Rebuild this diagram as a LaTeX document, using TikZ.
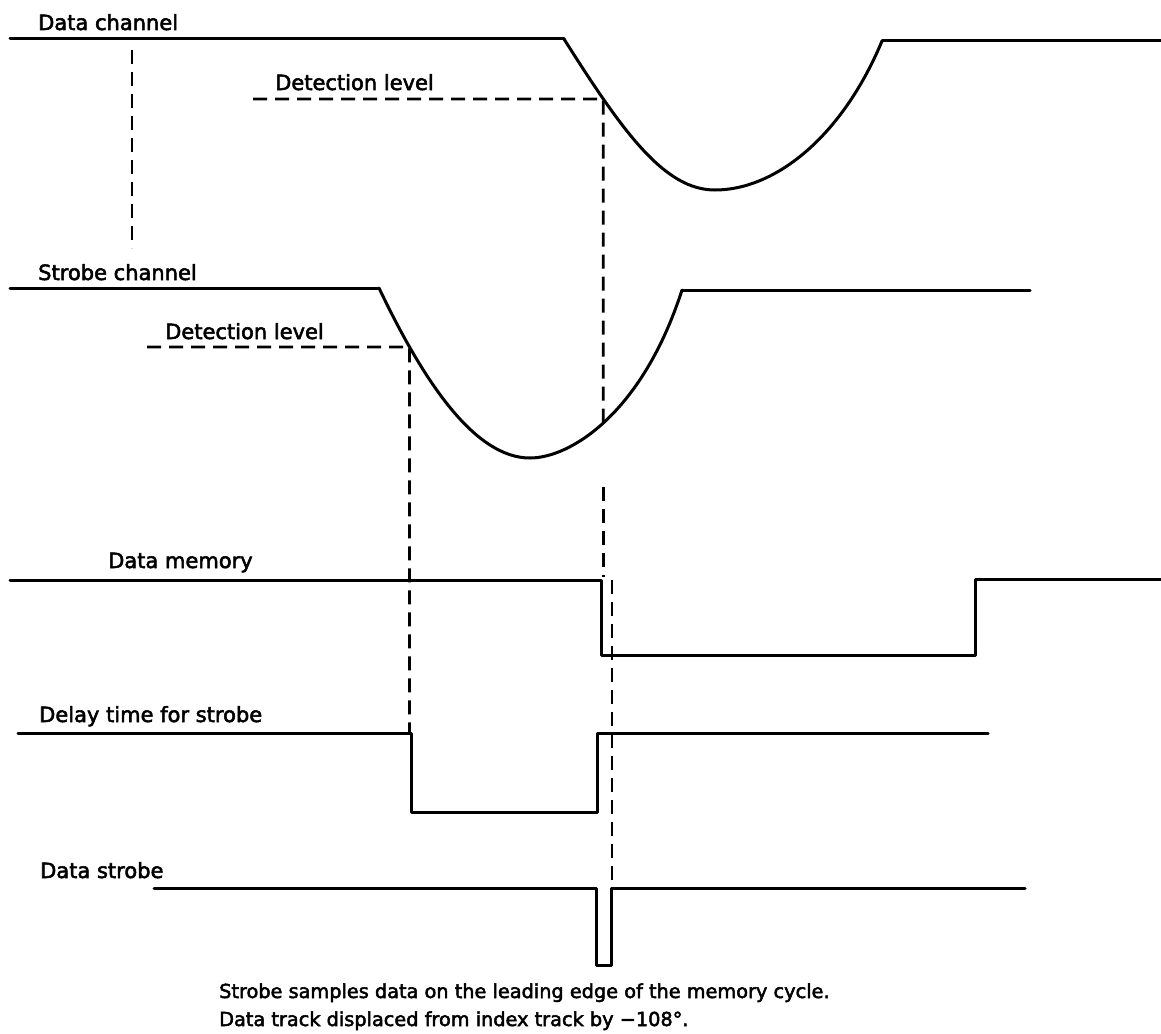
\documentclass[tikz,border=0pt]{standalone}
\usepackage{fontspec}
\setmainfont{DejaVu Sans}
\newfontfamily\lblfont{DejaVu Sans}[FakeBold=2.5]
\usetikzlibrary{intersections}
\begin{document}
\begin{tikzpicture}[x=1pt,y=-1pt,
  sig/.style={line width=3pt, line join=round, line cap=round},
  dsh/.style={line width=2.8pt, dash pattern=on 14pt off 8pt},
  lbl/.style={anchor=base west, inner sep=0pt, font=\lblfont\fontsize{21}{25}\selectfont},
  captxt/.style={anchor=base west, inner sep=0pt, font=\lblfont\fontsize{19.3}{23}\selectfont}]
\useasboundingbox (0,0) rectangle (1161,1033);
% labels
\node[lbl] (lDC) at (38,30) {Data channel};
\node[lbl] (lDL1) at (275,90) {Detection level};
\node[lbl] (lSC) at (38,280) {Strobe channel};
\node[lbl] (lDL2) at (165,339) {Detection level};
\node[lbl] (lDM) at (108,568) {Data memory};
\node[lbl] (lDT) at (39,722) {Delay time for strobe};
\node[lbl] (lDS) at (40,878) {Data strobe};
\node[captxt] (c1) at (219,998) {Strobe samples data on the leading edge of the memory cycle.};
\node[captxt] (c2) at (219,1026) {Data track displaced from index track by −108°.};
% data channel
\draw[sig] (10,39) -- (564,39);
\draw[sig, name path=dcurve] (564,39) .. controls (624,134) and (665,190) .. (715,190)
      .. controls (775,190) and (842,137) .. (882,41);
\draw[sig] (882,41) -- (1161,41);
% strobe channel
\draw[sig] (10,288) -- (379,288);
\draw[sig, name path=scurve] (379,288) .. controls (424,382.5) and (475,458) .. (530,458)
      .. controls (570,458) and (642,414) .. (682,290);
\draw[sig] (682,290) -- (1030,290);
% data memory
\draw[sig] (10,580) -- (601,580) -- (601,655) -- (975,655) -- (975,579) -- (1161,579);
% delay time
\draw[sig] (18,733) -- (411,733) -- (411,812) -- (597,812) -- (597,733) -- (988,733);
% data strobe
\draw[sig] (154,888) -- (596,888) -- (596,965) -- (611,965) -- (611,888) -- (1025,888);
% detection crossings
\path[name path=hdA] (253,99) -- (700,99);
\path[name intersections={of=dcurve and hdA, by={XA}}];
\path[name path=vA] (XA) -- ++(0,400);
\path[name intersections={of=scurve and vA, by={YA}}];
\path[name path=hdB] (147,347) -- (470,347);
\path[name intersections={of=scurve and hdB, by={XB}}];
% dashed
\draw[dsh] (132,50) -- (132,248);
\draw[dsh] (253,99) -- (XA) -- (YA);
\draw[dsh] (XA |- 0,487) -- (XA |- 0,577);
\draw[dsh] (612,580) -- (612,888);
\draw[dsh] (147,347) -- (XB) -- (XB |- 0,733);
\end{tikzpicture}
\end{document}
